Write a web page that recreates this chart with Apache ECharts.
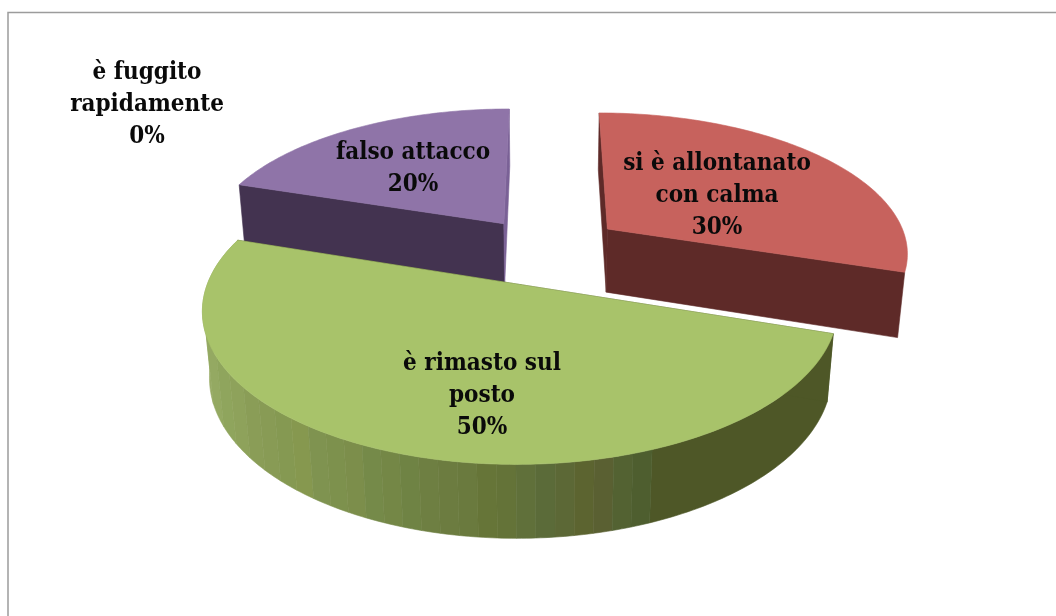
<!DOCTYPE html><html><head><meta charset="utf-8"></head><body style="margin:0;background:#fff"><div id="c" style="width:1056px;height:616px"></div>
<script src="https://cdn.jsdelivr.net/npm/echarts@6/dist/echarts.min.js"></script>
<script>
// Exploded 3D pie: answers by reaction of the animal
const categories = ['è fuggito\nrapidamente', 'si è allontanato\ncon calma', 'è rimasto sul\nposto', 'falso attacco'];
const values = [0, 30, 50, 20];
const topColors = ['#4F81BD', '#C7625D', '#A8C36A', '#8F74A8'];
const startWallColors = ['#2A4A6F', '#5E2A28', '#4E5727', '#433350'];
const endWallColors = ['#2A4A6F', '#5E2A28', '#4E5727', '#7A6196'];
// Shading of the long outer wall, from its lit left end towards its shadow
const wallBands = ['#98AB66', '#94A962', '#8FA55D', '#8EA25B', '#8A9D57', '#889B55', '#859952', '#86984F', '#7F9350', '#7D914D', '#7C8E4B', '#758A49', '#748746', '#6F8344', '#6E7F42', '#6C7C40', '#6A7A3E', '#667538', '#647338', '#60703A', '#5B6B39', '#5C6836', '#5C6430', '#5A6032', '#536232', '#4E5E2F'];

// Camera and explosion of the pie, in units of the pie radius
const view = { cx: 545, cy: 250, scale: 302, tilt: 0.482, perspective: 0.1745, depth: 0.2447 };
const explode = [0.25, 0.2614, 0.2505, 0.2388];
const shadowEdge = 0.368;
const labelCenters = [[147, 105], [717, 196], [482, 395.5], [413, 168.5]];
const total = values.reduce((a, b) => a + b, 0);

function project(x, y, z) {
  const w = 1 - view.perspective * (y * Math.cos(view.tilt) + z * Math.sin(view.tilt));
  return [view.cx + view.scale * x / w, view.cy + view.scale * (y * Math.sin(view.tilt) - z * Math.cos(view.tilt)) / w];
}

function renderSlice(params, api) {
  const idx = params.dataIndex, val = api.value(0);
  let before = 0;
  for (let i = 0; i < idx; i++) before += values[i];
  const a0 = before / total * 2 * Math.PI, a1 = (before + val) / total * 2 * Math.PI, mid = (a0 + a1) / 2;
  const ex = explode[idx] * Math.sin(mid), ey = -explode[idx] * Math.cos(mid);
  const at = (a, r, z) => project(ex + r * Math.sin(a), ey - r * Math.cos(a), z);
  const d = -view.depth;
  // Slices nearer the viewer are painted later
  const base = Math.round((1 - Math.cos(mid)) * 50);
  const poly = (points, fill) => ({ type: 'polygon', shape: { points },
    style: { fill, stroke: fill, lineWidth: 0.6 } });
  const arcPoints = (from, to, z) => {
    const n = Math.max(2, Math.ceil(Math.abs(to - from) / (Math.PI / 180)));
    const out = [];
    for (let s = 0; s <= n; s++) out.push(at(from + (to - from) * s / n, 1, z));
    return out;
  };
  const wall = (from, to, fill) => poly(arcPoints(from, to, 0).concat(arcPoints(to, from, d)), fill);
  const children = [];
  if (val > 0) {
    // Only the largest slice shows its outer wall; the bands are even across the page, not around the rim
    if (val === Math.max(...values)) {
      const edge = k => Math.PI - Math.asin(-1 + (shadowEdge + 1) * k / wallBands.length);
      children.push(wall(a0, edge(wallBands.length), startWallColors[idx]));
      wallBands.forEach((c, i) => {
        children.push(wall(edge(i + 1), i === 0 ? a1 : edge(i), c));
      });
    }
    children.push(poly([at(a0, 0, 0), at(a0, 1, 0), at(a0, 1, d), at(a0, 0, d)], startWallColors[idx]));
    children.push(poly([at(a1, 0, 0), at(a1, 1, 0), at(a1, 1, d), at(a1, 0, d)], endWallColors[idx]));
    children.push(poly([at(a0, 0, 0)].concat(arcPoints(a0, a1, 0)), topColors[idx]));
  }
  children.forEach((c, i) => { c.z2 = base + i * 0.001; });
  const pct = Math.round(val / total * 100);
  children.push({ type: 'text', z2: 500,
    style: { x: labelCenters[idx][0], y: labelCenters[idx][1], text: categories[idx] + '\n' + pct + '%',
      font: 'bold 24px "DejaVu Serif Condensed", "DejaVu Serif"', fill: '#0a0a0a', align: 'center', verticalAlign: 'middle', lineHeight: 32 } });
  return { type: 'group', children };
}

const chart = echarts.init(document.getElementById('c'));
chart.setOption({
  animation: false,
  backgroundColor: '#fff',
  graphic: [{ type: 'rect', silent: true, shape: { x: 8, y: 12.5, width: 1200, height: 800 },
    style: { fill: 'none', stroke: '#9c9c9c', lineWidth: 1.5 } }],
  series: [{
    type: 'custom', coordinateSystem: 'none', silent: true,
    data: values.map(v => [v]),
    renderItem: renderSlice
  }]
});
</script></body></html>
